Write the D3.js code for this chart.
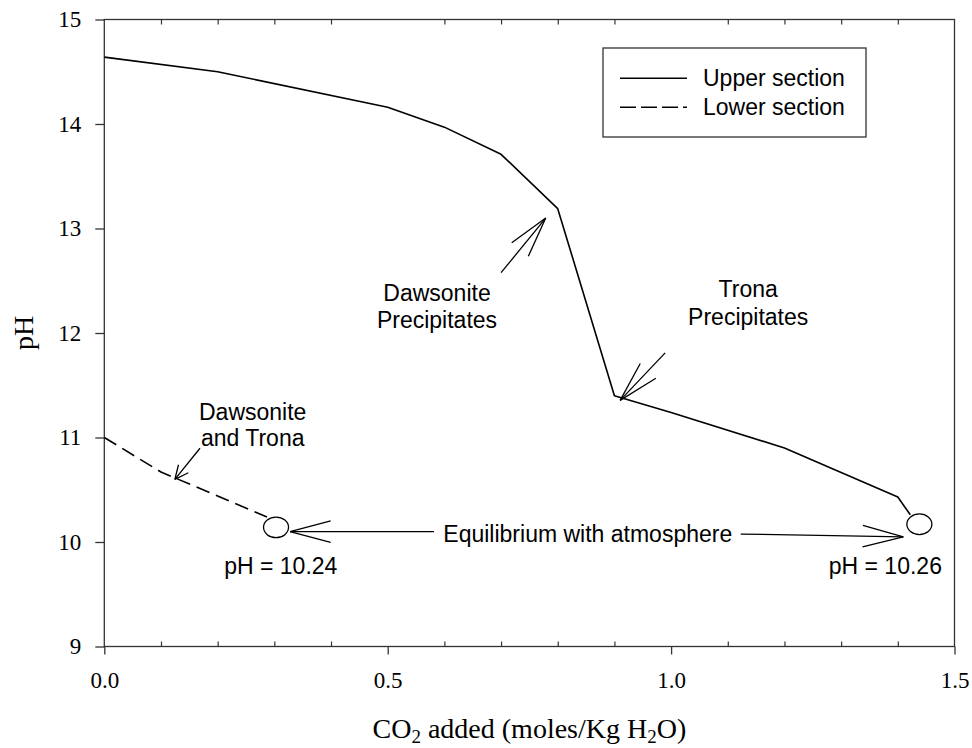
<!DOCTYPE html>
<html>
<head>
<meta charset="utf-8">
<script src="https://cdn.jsdelivr.net/npm/d3@7"></script>
<style>
  html, body { margin: 0; padding: 0; background: #fff; }
  svg { display: block; }
</style>
</head>
<body>
<svg id="chart" width="972" height="748"></svg>
<script>
// ---------------- data ----------------
const upperX  = [0.0, 0.2, 0.5, 0.6, 0.7, 0.8, 0.9, 1.0, 1.2, 1.4, 1.422];
const upperPH = [14.64, 14.50, 14.16, 13.97, 13.71, 13.19, 11.40, 11.24, 10.90, 10.43, 10.26];

const lowerX  = [0.0, 0.1, 0.2, 0.287];
const lowerPH = [11.00, 10.67, 10.44, 10.24];

const xMajorTicks = [0.0, 0.5, 1.0, 1.5];
const xMinorTicks = [0.1, 0.2, 0.3, 0.4, 0.6, 0.7, 0.8, 0.9, 1.1, 1.2, 1.3, 1.4];
const yTicks = [9, 10, 11, 12, 13, 14, 15];

const seriesNames = ["Upper section", "Lower section"];

// equilibrium end points (open ellipses) and their labels
const eqX      = [0.303, 1.438];
const eqPH     = [10.14, 10.17];
const eqLabels = ["pH = 10.24", "pH = 10.26"];
const eqLabelX  = [0.3114, 1.378];
const eqLabelPH = [9.694, 9.691];

// annotation texts (data coordinates of centre / baseline)
const notes = [
  { lines: ["Dawsonite", "Precipitates"], x: 0.587, pH: [12.31, 12.05] },
  { lines: ["Trona", "Precipitates"],     x: 1.136, pH: [12.34, 12.08] },
  { lines: ["Dawsonite", "and Trona"],    x: 0.2618, pH: [11.168, 10.92] },
  { lines: ["Equilibrium with atmosphere"], x: 0.853, pH: [10.003] }
];

// arrows: tail -> tip (data coordinates)
const arrows = [
  { x1: 0.700,  p1: 12.577, x2: 0.7788, p2: 13.10, head: "big" },
  { x1: 0.9895, p1: 11.81,  x2: 0.9101, p2: 11.355, head: "big" },
  { x1: 0.1688, p1: 10.897, x2: 0.1245, p2: 10.60, head: "small" },
  { x1: 0.5817, p1: 10.10,  x2: 0.3277, p2: 10.10, head: "big" },
  { x1: 1.1228, p1: 10.076, x2: 1.4097, p2: 10.05, head: "big" }
];

// ---------------- layout ----------------
const svg = d3.select("#chart");
const pLeft = 104.3, pRight = 954.5, pTop = 19.5, pBottom = 646.5;
const x = d3.scaleLinear().domain([0, 1.5]).range([pLeft, pRight]);
const y = d3.scaleLinear().domain([9, 15]).range([pBottom, pTop]);

const SERIF = "'Liberation Serif', 'Times New Roman', Times, serif";
const SANS = "'Liberation Sans', Arial, Helvetica, sans-serif";
const axisColor = "#333";

// frame
svg.append("rect")
  .attr("x", pLeft).attr("y", pTop)
  .attr("width", pRight - pLeft).attr("height", pBottom - pTop)
  .attr("fill", "none").attr("stroke", axisColor).attr("stroke-width", 1.3);

// bottom major ticks (outward) with labels
const gx = svg.append("g").attr("transform", `translate(0,${pBottom})`)
  .call(d3.axisBottom(x).tickValues(xMajorTicks).tickSize(8).tickFormat(d3.format(".1f")));
gx.select(".domain").remove();
gx.selectAll("line").attr("stroke", axisColor).attr("stroke-width", 1.3);
gx.selectAll("text").attr("y", 25.5).attr("font-family", SERIF).attr("font-size", 23).attr("fill", "#000");

// bottom minor ticks (inward)
const gxm = svg.append("g").attr("transform", `translate(0,${pBottom})`)
  .call(d3.axisTop(x).tickValues(xMinorTicks).tickSize(5).tickFormat(""));
gxm.select(".domain").remove();
gxm.selectAll("line").attr("stroke", axisColor).attr("stroke-width", 1.2);

// top minor ticks (inward)
const gxt = svg.append("g").attr("transform", `translate(0,${pTop})`)
  .call(d3.axisBottom(x).tickValues(xMinorTicks).tickSize(5).tickFormat(""));
gxt.select(".domain").remove();
gxt.selectAll("line").attr("stroke", axisColor).attr("stroke-width", 1.2);

// left axis
const gy = svg.append("g").attr("transform", `translate(${pLeft},0)`)
  .call(d3.axisLeft(y).tickValues(yTicks).tickSize(9).tickPadding(14).tickFormat(d3.format("d")));
gy.select(".domain").remove();
gy.selectAll("line").attr("stroke", axisColor).attr("stroke-width", 1.3);
gy.selectAll("text").attr("font-family", SERIF).attr("font-size", 23).attr("fill", "#000");

// axis titles
svg.append("text")
  .attr("transform", `translate(33,${(pTop + pBottom) / 2}) rotate(-90)`)
  .attr("text-anchor", "middle")
  .attr("font-family", SERIF).attr("font-size", 28)
  .text("pH");

const xt = svg.append("text")
  .attr("x", (pLeft + pRight) / 2).attr("y", 738)
  .attr("text-anchor", "middle")
  .attr("font-family", SERIF).attr("font-size", 28);
xt.append("tspan").text("CO");
xt.append("tspan").attr("font-size", 19).attr("dy", 5).text("2");
xt.append("tspan").attr("dy", -5).text(" added (moles/Kg H");
xt.append("tspan").attr("font-size", 19).attr("dy", 5).text("2");
xt.append("tspan").attr("dy", -5).text("O)");

// ---------------- series ----------------
const line = d3.line().x(d => x(d[0])).y(d => y(d[1]));
const upper = upperX.map((v, i) => [v, upperPH[i]]);
const lower = lowerX.map((v, i) => [v, lowerPH[i]]);

svg.append("path").datum(upper)
  .attr("d", line).attr("fill", "none")
  .attr("stroke", "#000").attr("stroke-width", 1.6).attr("stroke-linejoin", "round");

svg.append("path").datum(lower)
  .attr("d", line).attr("fill", "none")
  .attr("stroke", "#000").attr("stroke-width", 1.6)
  .attr("stroke-dasharray", "14,7");

// equilibrium ellipses
svg.selectAll("ellipse.eq").data(eqX).enter().append("ellipse")
  .attr("class", "eq")
  .attr("cx", d => x(d)).attr("cy", (d, i) => y(eqPH[i]))
  .attr("rx", 12.5).attr("ry", 10.3)
  .attr("fill", "none").attr("stroke", "#000").attr("stroke-width", 1.3);

svg.selectAll("text.eqlab").data(eqLabels).enter().append("text")
  .attr("class", "eqlab")
  .attr("x", (d, i) => x(eqLabelX[i])).attr("y", (d, i) => y(eqLabelPH[i]))
  .attr("text-anchor", "middle")
  .attr("font-family", SANS).attr("font-size", 23)
  .text(d => d);

// annotation texts
notes.forEach(n => {
  n.lines.forEach((t, i) => {
    svg.append("text")
      .attr("x", x(n.x)).attr("y", y(n.pH[i]))
      .attr("text-anchor", "middle")
      .attr("font-family", SANS).attr("font-size", 23)
      .text(t);
  });
});

// arrows with open V heads
arrows.forEach(a => {
  const x1 = x(a.x1), y1 = y(a.p1), x2 = x(a.x2), y2 = y(a.p2);
  const g = svg.append("g").attr("stroke", "#000").attr("stroke-width", 1.3).attr("fill", "none");
  g.append("line").attr("x1", x1).attr("y1", y1).attr("x2", x2).attr("y2", y2);
  const ang = Math.atan2(y1 - y2, x1 - x2);
  const len = a.head === "big" ? 42 : 15;
  const spread = (a.head === "big" ? 14.8 : 25) * Math.PI / 180;
  [ang - spread, ang + spread].forEach(t => {
    g.append("line")
      .attr("x1", x2).attr("y1", y2)
      .attr("x2", x2 + len * Math.cos(t)).attr("y2", y2 + len * Math.sin(t));
  });
});

// ---------------- legend ----------------
const lg = svg.append("g");
lg.append("rect").attr("x", 603).attr("y", 48).attr("width", 263).attr("height", 89)
  .attr("fill", "#fff").attr("stroke", axisColor).attr("stroke-width", 1.3);
seriesNames.forEach((name, i) => {
  const yy = 78.3 + i * 29;
  lg.append("line").attr("x1", 620).attr("x2", 687).attr("y1", yy).attr("y2", yy)
    .attr("stroke", "#000").attr("stroke-width", 1.6)
    .attr("stroke-dasharray", i === 1 ? "16,5" : null);
  lg.append("text").attr("x", 703).attr("y", yy + 8)
    .attr("font-family", SANS).attr("font-size", 23).text(name);
});
</script>
</body>
</html>
